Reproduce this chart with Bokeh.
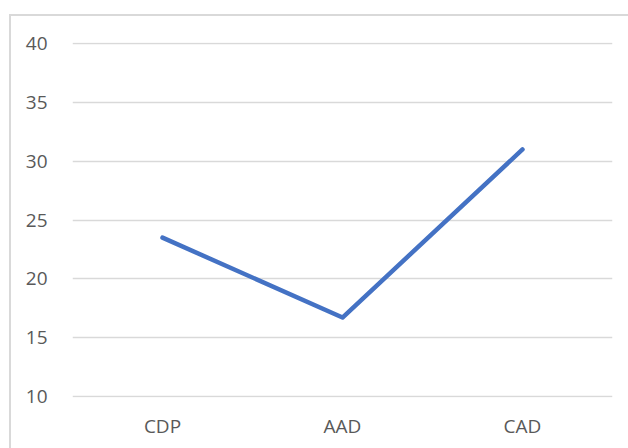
from bokeh.plotting import figure
from bokeh.models import Range1d, FactorRange, FixedTicker, InlineStyleSheet
from bokeh.embed import file_html
from bokeh.resources import INLINE

categories = ["CDP", "AAD", "CAD"]
values = [23.5, 16.7, 31.0]
y_ticks = [10, 15, 20, 25, 30, 35, 40]

FONT = "Open Sans"
TXT = "#595959"

p = figure(width=628, height=448, output_backend="svg", toolbar_location=None,
           x_range=FactorRange(*categories, range_padding=0),
           y_range=Range1d(9.9, 40.1),
           min_border_left=72, min_border_right=16, min_border_top=42, min_border_bottom=51)
p.outline_line_color = None
p.background_fill_color = "white"
p.border_fill_color = None

p.line(x=categories, y=values, line_color="#4472C4", line_width=4.5, line_cap="round", line_join="round")

p.xgrid.grid_line_color = None
p.ygrid.grid_line_color = "#d9d9d9"
p.ygrid.grid_line_width = 1.3
p.yaxis.ticker = FixedTicker(ticks=y_ticks)

for ax in (p.xaxis[0], p.yaxis[0]):
    ax.axis_line_color = None
    ax.major_tick_line_color = None
    ax.minor_tick_line_color = None
    ax.major_label_text_font = FONT
    ax.major_label_text_font_size = "19px"
    ax.major_label_text_color = TXT
p.yaxis.major_label_standoff = 19
p.xaxis.major_label_standoff = 9

p.stylesheets = [InlineStyleSheet(css="""
:host { position: relative; background: white; }
:host::after {
  content: ""; position: absolute; left: 9px; top: 14px; right: 0; bottom: 0;
  border-left: 2px solid #d9d9d9; border-top: 2px solid #d9d9d9;
  pointer-events: none;
}
""")]

open("out.html", "w").write(file_html(p, INLINE))
